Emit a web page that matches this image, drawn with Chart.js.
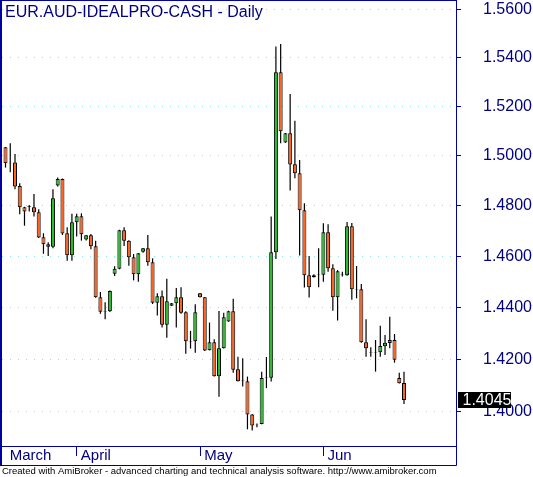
<!DOCTYPE html>
<html>
<head>
<meta charset="utf-8">
<script src="https://cdn.jsdelivr.net/npm/chart.js@4.4.0/dist/chart.umd.min.js"></script>
<style>
  html, body { margin: 0; padding: 0; background: #fff; }
  canvas { display: block; }
</style>
</head>
<body>
<canvas id="chart" width="533" height="477"></canvas>
<script>
// EUR.AUD daily bars (Sun-Fri sessions), mid March to June
const dates = [
    '2010-03-15', '2010-03-16', '2010-03-17', '2010-03-18', '2010-03-19', '2010-03-21', '2010-03-22', '2010-03-23',
    '2010-03-24', '2010-03-25', '2010-03-26', '2010-03-28', '2010-03-29', '2010-03-30', '2010-03-31',
    '2010-04-01', '2010-04-02', '2010-04-04', '2010-04-05', '2010-04-06', '2010-04-07', '2010-04-08', '2010-04-09',
    '2010-04-11', '2010-04-12', '2010-04-13', '2010-04-14', '2010-04-15', '2010-04-16', '2010-04-18', '2010-04-19',
    '2010-04-20', '2010-04-21', '2010-04-22', '2010-04-23', '2010-04-25', '2010-04-26', '2010-04-27', '2010-04-28',
    '2010-04-29', '2010-04-30',
    '2010-05-02', '2010-05-03', '2010-05-04', '2010-05-05', '2010-05-06', '2010-05-07', '2010-05-09', '2010-05-10',
    '2010-05-11', '2010-05-12', '2010-05-13', '2010-05-14', '2010-05-16', '2010-05-17', '2010-05-18', '2010-05-19',
    '2010-05-20', '2010-05-21', '2010-05-23', '2010-05-24', '2010-05-25', '2010-05-26', '2010-05-27', '2010-05-28',
    '2010-05-30', '2010-05-31',
    '2010-06-01', '2010-06-02', '2010-06-03', '2010-06-04', '2010-06-06', '2010-06-07', '2010-06-08', '2010-06-09',
    '2010-06-10', '2010-06-11', '2010-06-13', '2010-06-14', '2010-06-15', '2010-06-16', '2010-06-17', '2010-06-18',
    '2010-06-20', '2010-06-21'
];

const opens = [
    1.5034, 1.4972, 1.4973, 1.4878, 1.4793, 1.4797, 1.4793, 1.4773, 1.4674, 1.4647,
    1.4637, 1.4880, 1.4906, 1.4690, 1.4603, 1.4734, 1.4757, 1.4665, 1.4682, 1.4639,
    1.4439, 1.4384, 1.4385, 1.4531, 1.4550, 1.4702, 1.4660, 1.4595, 1.4529, 1.4617,
    1.4631, 1.4576, 1.4418, 1.4443, 1.4333, 1.4406, 1.4416, 1.4439, 1.4381, 1.4268,
    1.4269, 1.4455, 1.4439, 1.4235, 1.4265, 1.4135, 1.4242, 1.4345, 1.4385, 1.4162,
    1.4118, 1.4116, 1.3991, 1.3950, 1.3955, 1.4129, 1.4130, 1.4615, 1.5341, 1.5053,
    1.5091, 1.4965, 1.4929, 1.4781, 1.4525, 1.4517, 1.4526, 1.4527, 1.4694, 1.4552,
    1.4439, 1.4526, 1.4525, 1.4718, 1.4469, 1.4470, 1.4265, 1.4226, 1.4228, 1.4227,
    1.4250, 1.4262, 1.4274, 1.4129, 1.4110
];
const highs = [
    1.5035, 1.5050, 1.5007, 1.4889, 1.4795, 1.4802, 1.4846, 1.4785, 1.4690, 1.4655,
    1.4865, 1.4912, 1.4908, 1.4714, 1.4767, 1.4767, 1.4769, 1.4683, 1.4687, 1.4660,
    1.4460, 1.4420, 1.4465, 1.4560, 1.4704, 1.4714, 1.4662, 1.4608, 1.4612, 1.4632,
    1.4683, 1.4591, 1.4455, 1.4465, 1.4511, 1.4417, 1.4475, 1.4478, 1.4385, 1.4309,
    1.4412, 1.4456, 1.4440, 1.4341, 1.4277, 1.4386, 1.4379, 1.4387, 1.4433, 1.4210,
    1.4204, 1.4134, 1.3992, 1.3957, 1.4152, 1.4209, 1.4756, 1.5447, 1.5458, 1.5092,
    1.5251, 1.5142, 1.4983, 1.4809, 1.4600, 1.4529, 1.4631, 1.4730, 1.4726, 1.4568,
    1.4545, 1.4539, 1.4735, 1.4731, 1.4561, 1.4491, 1.4354, 1.4246, 1.4274, 1.4329,
    1.4293, 1.4364, 1.4297, 1.4149, 1.4152
];
const lows = [
    1.4952, 1.4933, 1.4865, 1.4765, 1.4720, 1.4776, 1.4756, 1.4671, 1.4609, 1.4600,
    1.4631, 1.4876, 1.4683, 1.4582, 1.4582, 1.4677, 1.4661, 1.4661, 1.4627, 1.4437,
    1.4375, 1.4354, 1.4382, 1.4522, 1.4548, 1.4640, 1.4562, 1.4505, 1.4500, 1.4613,
    1.4562, 1.4413, 1.4368, 1.4322, 1.4283, 1.4405, 1.4322, 1.4375, 1.4221, 1.4241,
    1.4225, 1.4438, 1.4232, 1.4234, 1.4134, 1.4058, 1.4241, 1.4344, 1.4149, 1.4115,
    1.4096, 1.3935, 1.3930, 1.3943, 1.3954, 1.4090, 1.4115, 1.4589, 1.5050, 1.5052,
    1.4860, 1.4909, 1.4602, 1.4477, 1.4438, 1.4516, 1.4478, 1.4500, 1.4539, 1.4387,
    1.4349, 1.4520, 1.4523, 1.4429, 1.4435, 1.4263, 1.4210, 1.4210, 1.4153, 1.4210,
    1.4216, 1.4242, 1.4187, 1.4108, 1.4030
];
const closes = [
    1.4969, 1.4969, 1.4876, 1.4793, 1.4776, 1.4794, 1.4773, 1.4673, 1.4647, 1.4637,
    1.4829, 1.4906, 1.4689, 1.4603, 1.4734, 1.4757, 1.4686, 1.4682, 1.4639, 1.4439,
    1.4383, 1.4386, 1.4463, 1.4550, 1.4702, 1.4660, 1.4595, 1.4529, 1.4611, 1.4631,
    1.4576, 1.4418, 1.4443, 1.4333, 1.4424, 1.4416, 1.4439, 1.4379, 1.4269, 1.4270,
    1.4381, 1.4439, 1.4234, 1.4265, 1.4135, 1.4242, 1.4362, 1.4385, 1.4160, 1.4116,
    1.4120, 1.3991, 1.3949, 1.3952, 1.4129, 1.4131, 1.4615, 1.5341, 1.5099, 1.5091,
    1.4964, 1.4929, 1.4781, 1.4525, 1.4478, 1.4525, 1.4528, 1.4694, 1.4552, 1.4439,
    1.4541, 1.4528, 1.4718, 1.4470, 1.4471, 1.4265, 1.4242, 1.4228, 1.4226, 1.4251,
    1.4263, 1.4274, 1.4198, 1.4109, 1.4045
];

const priceTicks = [1.40, 1.42, 1.44, 1.46, 1.48, 1.50, 1.52, 1.54, 1.56];
const monthNames = { '03': 'March', '04': 'April', '05': 'May', '06': 'Jun' };
const chartTitle = 'EUR.AUD-IDEALPRO-CASH - Daily';
const footerText = 'Created with AmiBroker - advanced charting and technical analysis software. http://www.amibroker.com';

const UP_COLOR = '#28c028';
const DOWN_COLOR = '#ff6420';
const FRAME_COLOR = '#0000a0';
const TEXT_COLOR = '#000080';
const FONT = 'Arial, "Liberation Sans", sans-serif';

// first bar of every month gets a label
let monthStarts = [];
for (let i = 0; i < dates.length; i++) {
    if (i === 0 || dates[i].slice(5, 7) !== dates[i - 1].slice(5, 7)) {
        monthStarts.push(i);
    }
}

let bodies = [];
let wicks = [];
let bodyColors = [];
for (let i = 0; i < dates.length; i++) {
    bodies.push({ x: i, y: [opens[i], closes[i]] });
    wicks.push({ x: i, y: [lows[i], highs[i]] });
    bodyColors.push(closes[i] > opens[i] ? UP_COLOR : DOWN_COLOR);
}

const amiFrame = {
    id: 'amiFrame',
    afterDraw(chart) {
        const ctx = chart.ctx;
        const area = chart.chartArea;
        const yScale = chart.scales.y;
        const bottom = 465.5;

        ctx.save();
        ctx.strokeStyle = FRAME_COLOR;
        ctx.lineWidth = 1;
        ctx.beginPath();
        ctx.moveTo(0, 0.5); ctx.lineTo(area.right + 0.5, 0.5);
        ctx.moveTo(area.right + 0.5, 0); ctx.lineTo(area.right + 0.5, bottom);
        ctx.moveTo(0, area.bottom + 0.5); ctx.lineTo(area.right, area.bottom + 0.5);
        ctx.moveTo(0, bottom); ctx.lineTo(area.right + 0.5, bottom);
        ctx.stroke();
        ctx.lineWidth = 2;
        ctx.beginPath();
        ctx.moveTo(1, 0); ctx.lineTo(1, bottom);
        ctx.stroke();

        ctx.fillStyle = TEXT_COLOR;
        ctx.font = '16px ' + FONT;
        ctx.textBaseline = 'alphabetic';
        ctx.textAlign = 'left';
        ctx.fillText(chartTitle, 5, 17);

        ctx.fillStyle = '#000';
        ctx.font = '9.5px ' + FONT;
        ctx.fillText(footerText, 2, 473.5);

        // last close marker on the price axis
        const last = closes[closes.length - 1];
        const py = yScale.getPixelForValue(last);
        ctx.fillStyle = '#000';
        ctx.fillRect(458, Math.round(py) - 8, 53, 16);
        ctx.fillStyle = '#fff';
        ctx.font = '16px ' + FONT;
        ctx.textBaseline = 'middle';
        ctx.fillText(last.toFixed(4), 462.5, py + 1);
        ctx.restore();
    }
};

Chart.defaults.font.family = FONT;

new Chart(document.getElementById('chart'), {
    type: 'bar',
    data: {
        datasets: [
            {
                label: 'body',
                data: bodies,
                backgroundColor: bodyColors,
                borderColor: '#000',
                borderWidth: 1,
                borderSkipped: false,
                barThickness: 4,
                inflateAmount: 0,
                grouped: false,
                order: 0
            },
            {
                label: 'wick',
                data: wicks,
                backgroundColor: '#000',
                borderWidth: 0,
                barThickness: 1.2,
                inflateAmount: 0,
                grouped: false,
                order: 1
            }
        ]
    },
    options: {
        responsive: false,
        animation: false,
        layout: { padding: { left: 2, top: 0, right: 0, bottom: 0 } },
        plugins: {
            legend: { display: false },
            tooltip: { enabled: false }
        },
        scales: {
            x: {
                type: 'linear',
                min: -0.74,
                max: 94.96,
                offset: false,
                afterBuildTicks: function (scale) {
                    scale.ticks = monthStarts.map(i => ({ value: i }));
                },
                afterFit: function (scale) {
                    scale.height = 31;
                    scale.paddingLeft = 0;
                    scale.paddingRight = 0;
                },
                border: { display: false },
                grid: {
                    offset: false,
                    drawOnChartArea: false,
                    drawTicks: true,
                    tickLength: 10,
                    color: 'rgba(0,0,0,0)',
                    tickColor: ctx => (ctx.index === 0 ? 'rgba(0,0,0,0)' : FRAME_COLOR),
                    tickWidth: 1
                },
                ticks: {
                    autoSkip: false,
                    maxRotation: 0,
                    minRotation: 0,
                    align: 'start',
                    padding: -9,
                    color: TEXT_COLOR,
                    font: { size: 15 },
                    callback: function (value) {
                        return ' ' + monthNames[dates[value].slice(5, 7)];
                    }
                }
            },
            y: {
                type: 'logarithmic',
                position: 'right',
                min: 1.38724,
                max: 1.5642,
                afterBuildTicks: function (scale) {
                    scale.ticks = priceTicks.map(v => ({ value: v }));
                },
                afterFit: function (scale) {
                    scale.width = 77;
                    scale.paddingTop = 0;
                    scale.paddingBottom = 0;
                },
                border: { display: false, dash: [1, 7] },
                grid: {
                    color: '#80e8e8',
                    lineWidth: 1,
                    drawTicks: true,
                    tickLength: 5,
                    tickColor: FRAME_COLOR,
                    tickBorderDash: []
                },
                ticks: {
                    padding: 22,
                    color: TEXT_COLOR,
                    font: { size: 16 },
                    callback: function (value) {
                        return Number(value).toFixed(4);
                    }
                }
            }
        }
    },
    plugins: [amiFrame]
});
</script>
</body>
</html>
